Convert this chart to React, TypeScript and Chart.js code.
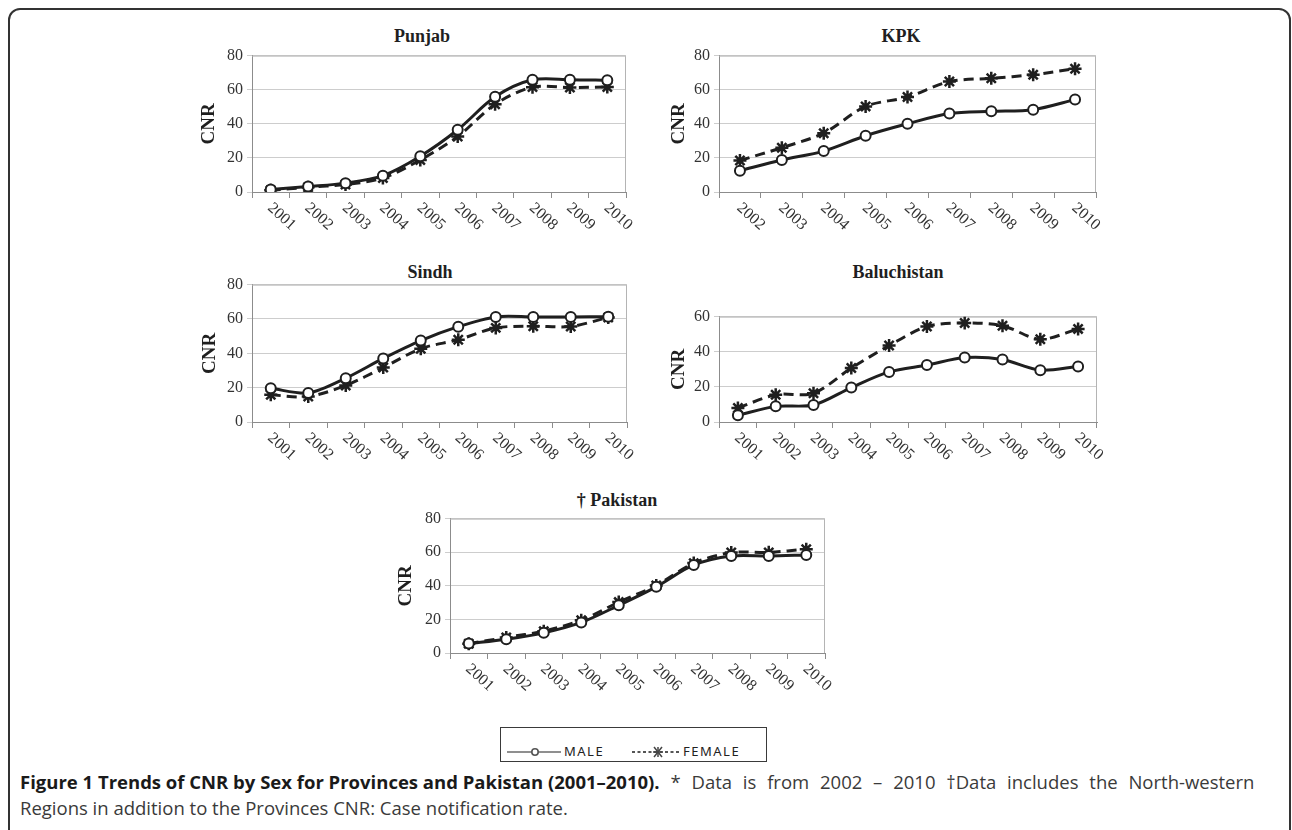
import React, { useEffect, useRef } from 'react';
import { Chart, registerables } from 'chart.js';

Chart.register(...registerables);

// ---------- data ----------
const years2001 = ['2001', '2002', '2003', '2004', '2005', '2006', '2007', '2008', '2009', '2010'];
const years2002 = ['2002', '2003', '2004', '2005', '2006', '2007', '2008', '2009', '2010'];

const punjabMale = [1.4, 3.2, 5.2, 9.6, 21, 36.5, 55.8, 65.8, 65.9, 65.5];
const punjabFemale = [1, 2.8, 4.4, 8.2, 18.8, 32.5, 51.5, 61.5, 61.3, 61.6];

const kpkMale = [12.5, 18.8, 24, 33, 40, 46, 47.3, 48.3, 54.2];
const kpkFemale = [18.5, 26, 34.5, 50.2, 55.7, 64.8, 66.7, 68.8, 72.3];

const sindhMale = [19.6, 16.9, 25.5, 37, 47.4, 55.5, 61.2, 61.2, 61.2, 61.3];
const sindhFemale = [15.8, 14.8, 21.3, 31.7, 42.7, 47.9, 54.8, 55.8, 55.6, 60.9];

const baluchistanMale = [3.8, 8.9, 9.7, 19.6, 28.5, 32.4, 36.7, 35.6, 29.5, 31.6];
const baluchistanFemale = [8, 15.5, 16.4, 30.7, 43.5, 54.4, 56.4, 54.8, 47.1, 53];

const pakistanMale = [5.6, 8.2, 12, 18.2, 28.4, 39.4, 52.4, 57.8, 57.8, 58.4];
const pakistanFemale = [5.5, 9.3, 13, 19.5, 30.3, 40.2, 53.5, 59.8, 59.9, 61.8];

const yTicks80 = [0, 20, 40, 60, 80];
const yTicks60 = [0, 20, 40, 60];

const seriesNames = ['MALE', 'FEMALE'];

// ---------- layout (positions kept apart from data) ----------
type Panel = {
  title: string;
  labels: string[];
  male: number[];
  female: number[];
  ticks: number[];
  plotLeft: number;
  plotRight: number;
  plotTop: number;
  plotBottom: number;
  titleX: number;
  titleBaseline: number;
  cnrGap: number;
};

const panels: Panel[] = [
  { title: 'Punjab', labels: years2001, male: punjabMale, female: punjabFemale, ticks: yTicks80,
    plotLeft: 252, plotRight: 626, plotTop: 54, plotBottom: 192, titleX: 422, titleBaseline: 42, cnrGap: 43 },
  { title: 'KPK', labels: years2002, male: kpkMale, female: kpkFemale, ticks: yTicks80,
    plotLeft: 719, plotRight: 1096, plotTop: 54, plotBottom: 192, titleX: 901, titleBaseline: 42, cnrGap: 40 },
  { title: 'Sindh', labels: years2001, male: sindhMale, female: sindhFemale, ticks: yTicks80,
    plotLeft: 252, plotRight: 627, plotTop: 283, plotBottom: 422, titleX: 430, titleBaseline: 278, cnrGap: 42 },
  { title: 'Baluchistan', labels: years2001, male: baluchistanMale, female: baluchistanFemale, ticks: yTicks60,
    plotLeft: 719, plotRight: 1097, plotTop: 315, plotBottom: 422, titleX: 898, titleBaseline: 278, cnrGap: 40 },
  { title: '\u2020 Pakistan', labels: years2001, male: pakistanMale, female: pakistanFemale, ticks: yTicks80,
    plotLeft: 450, plotRight: 825, plotTop: 517, plotBottom: 653, titleX: 617, titleBaseline: 506, cnrGap: 44 },
];

const Y_AXIS_W = 60;
const PAD_TOP = 12;
const X_AXIS_H = 52;
const PAD_RIGHT = 32;
const SERIF = '"Liberation Serif", "Times New Roman", serif';
const SANS = '"Open Sans", "Noto Sans", sans-serif';
const INK = '#1f1f1f';

const panelDecor = {
  id: 'panelDecor',
  beforeDatasetsDraw(chart: any) {
    const { ctx, chartArea: a } = chart;
    ctx.save();
    ctx.strokeStyle = '#b4b4b4';
    ctx.lineWidth = 1;
    ctx.beginPath();
    ctx.moveTo(a.left, a.top + 0.5);
    ctx.lineTo(a.right - 0.5, a.top + 0.5);
    ctx.lineTo(a.right - 0.5, a.bottom);
    ctx.stroke();
    ctx.restore();
  },
  afterDraw(chart: any) {
    const { ctx } = chart;
    const xs = chart.scales.x;
    const labels: string[] = chart.data.labels;
    ctx.save();
    ctx.font = '16px ' + SERIF;
    ctx.fillStyle = '#333333';
    ctx.textAlign = 'left';
    ctx.textBaseline = 'middle';
    labels.forEach((lab, i) => {
      const px = xs.getPixelForValue(i);
      ctx.save();
      ctx.translate(px - 1, xs.top + 14);
      ctx.rotate((42 * Math.PI) / 180);
      ctx.fillText(lab, 0, 0);
      ctx.restore();
    });
    ctx.restore();
  },
};

function ChartPanel({ p }: { p: Panel }) {
  const ref = useRef<HTMLCanvasElement | null>(null);
  const width = Y_AXIS_W + (p.plotRight - p.plotLeft) + PAD_RIGHT;
  const height = PAD_TOP + (p.plotBottom - p.plotTop) + X_AXIS_H;

  useEffect(() => {
    if (!ref.current) return;
    const yMax = p.ticks[p.ticks.length - 1];
    const chart = new Chart(ref.current, {
      type: 'line',
      data: {
        labels: p.labels,
        datasets: [
          {
            label: seriesNames[0],
            data: p.male,
            borderColor: INK,
            borderWidth: 3,
            tension: 0.3,
            pointStyle: 'circle',
            pointRadius: 5,
            pointBorderWidth: 2,
            pointBorderColor: INK,
            pointBackgroundColor: '#ffffff',
            fill: false,
          },
          {
            label: seriesNames[1],
            data: p.female,
            borderColor: INK,
            borderWidth: 3,
            borderDash: [10, 6],
            tension: 0.3,
            pointStyle: 'star',
            pointRadius: 6.5,
            pointBorderWidth: 2.5,
            pointBorderColor: INK,
            pointBackgroundColor: INK,
            fill: false,
          },
        ],
      },
      options: {
        animation: false,
        responsive: false,
        maintainAspectRatio: false,
        devicePixelRatio: 1,
        layout: { padding: { top: PAD_TOP, right: PAD_RIGHT, left: 0, bottom: 0 } },
        plugins: {
          legend: { display: false },
          tooltip: { enabled: false },
          title: { display: false },
        },
        scales: {
          x: {
            type: 'category',
            offset: true,
            grid: {
              offset: true,
              drawOnChartArea: false,
              drawTicks: true,
              tickLength: 6,
              color: '#8c8c8c',
            },
            border: { display: true, color: '#8c8c8c', width: 1 },
            ticks: { display: false },
            afterFit: (s: any) => {
              s.height = X_AXIS_H;
            },
          },
          y: {
            min: 0,
            max: yMax,
            afterBuildTicks: (s: any) => {
              s.ticks = p.ticks.map((v) => ({ value: v }));
            },
            grid: { color: '#cdcdcd', drawTicks: true, tickLength: 5, lineWidth: 1 },
            border: { display: true, color: '#8c8c8c', width: 1 },
            ticks: {
              font: { family: SERIF, size: 16 },
              color: '#333333',
              padding: 4,
            },
            title: {
              display: true,
              text: 'CNR',
              color: INK,
              font: { family: SERIF, size: 19, weight: 'bold', lineHeight: 1.2 },
              padding: { top: Y_AXIS_W - p.cnrGap - 11.4, bottom: 0 },
            },
            afterFit: (s: any) => {
              s.width = Y_AXIS_W;
            },
          },
        },
      },
      plugins: [panelDecor],
    } as any);
    return () => chart.destroy();
  }, [p]);

  return (
    <>
      <div
        style={{
          position: 'absolute',
          left: p.titleX - 150,
          top: p.titleBaseline - 16,
          width: 300,
          textAlign: 'center',
          fontFamily: SERIF,
          fontWeight: 'bold',
          fontSize: 18,
          lineHeight: '20px',
          color: INK,
        }}
      >
        {p.title}
      </div>
      <canvas
        ref={ref}
        width={width}
        height={height}
        style={{
          position: 'absolute',
          left: p.plotLeft - Y_AXIS_W,
          top: p.plotTop - PAD_TOP,
          width,
          height,
        }}
      />
    </>
  );
}

function LegendBox() {
  const textStyle: React.CSSProperties = {
    position: 'absolute',
    top: 15,
    fontFamily: '"Noto Sans", "Open Sans", sans-serif',
    fontSize: 13,
    lineHeight: '17px',
    letterSpacing: '1.5px',
    color: '#222',
  };
  return (
    <div
      style={{
        position: 'absolute',
        left: 500,
        top: 727,
        width: 265,
        height: 33,
        border: '1px solid #3a3a3a',
        background: '#fff',
      }}
    >
      <svg width={265} height={33} style={{ position: 'absolute', left: 0, top: 0 }}>
        <line x1={6} y1={24} x2={60} y2={24} stroke="#6a6a6a" strokeWidth={1.6} />
        <circle cx={34} cy={24} r={3.2} stroke="#555" strokeWidth={1.6} fill="#fff" />
        <line x1={131} y1={24} x2={180} y2={24} stroke="#555" strokeWidth={2} strokeDasharray="3 2.5" />
        <g stroke="#444" strokeWidth={1.5}>
          <line x1={153} y1={19} x2={161} y2={29} />
          <line x1={161} y1={19} x2={153} y2={29} />
          <line x1={157} y1={19} x2={157} y2={29} />
          <line x1={152} y1={24} x2={162} y2={24} />
        </g>
      </svg>
      <span style={{ ...textStyle, left: 63 }}>{seriesNames[0]}</span>
      <span style={{ ...textStyle, left: 182 }}>{seriesNames[1]}</span>
    </div>
  );
}

export default function App() {
  return (
    <div
      style={{
        position: 'absolute',
        left: 0,
        top: 0,
        width: 1292,
        height: 830,
        overflow: 'hidden',
        background: '#ffffff',
      }}
    >
      <div
        style={{
          position: 'absolute',
          left: 8,
          top: 8,
          width: 1279,
          height: 1000,
          border: '2px solid #333',
          borderRadius: 12,
        }}
      />
      {panels.map((p) => (
        <ChartPanel key={p.title} p={p} />
      ))}
      <LegendBox />
      <div
        style={{
          position: 'absolute',
          left: 20,
          top: 769,
          width: 1260,
          fontFamily: SANS,
          fontSize: 18.5,
          lineHeight: '26px',
          color: '#3a3a3a',
          whiteSpace: 'nowrap',
        }}
      >
        <div>
          <span style={{ fontWeight: 'bold', color: '#1a1a1a' }}>
            Figure 1 Trends of CNR by Sex for Provinces and Pakistan (2001–2010).
          </span>
          <span style={{ wordSpacing: '6px' }}>
            {' '}* Data is from 2002 – 2010 †Data includes the North-western
          </span>
        </div>
        <div>Regions in addition to the Provinces CNR: Case notification rate.</div>
      </div>
    </div>
  );
}
